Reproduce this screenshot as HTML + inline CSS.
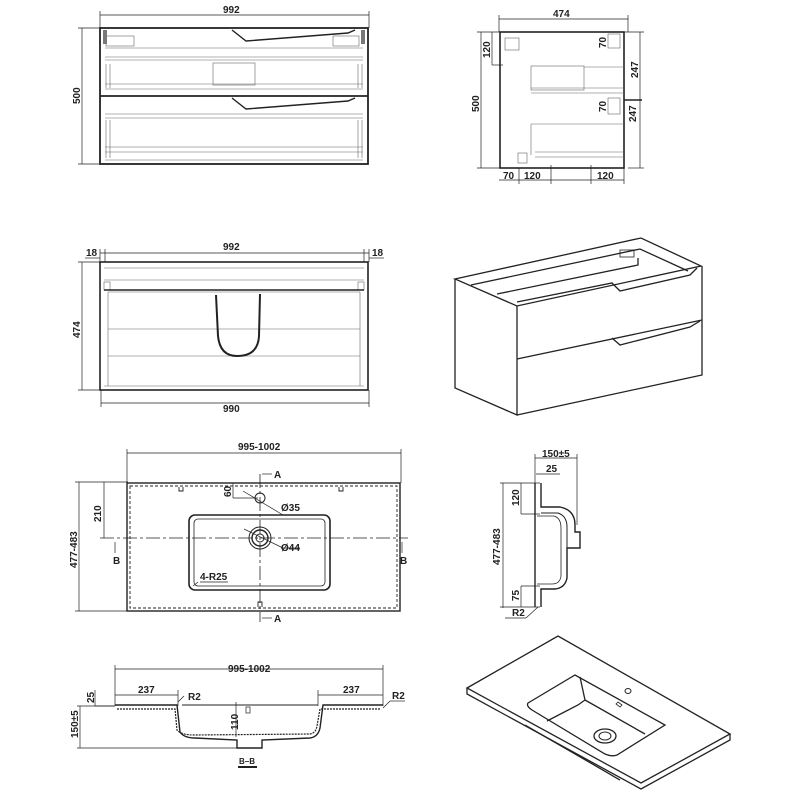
<!DOCTYPE html>
<html><head><style>body{margin:0;background:#fff}svg{display:block}text{font-family:"Liberation Sans",sans-serif;font-size:10px;font-weight:bold;fill:#222}</style></head><body>
<svg width="800" height="800" viewBox="0 0 800 800" xmlns="http://www.w3.org/2000/svg">
<g fill="none" stroke="#222">
<g stroke-width="0.7">
<line x1="100" y1="15" x2="369" y2="15"/><line x1="100" y1="11" x2="100" y2="28"/><line x1="369" y1="11" x2="369" y2="28"/>
<line x1="82" y1="28" x2="82" y2="164"/><line x1="78" y1="28" x2="101" y2="28"/><line x1="78" y1="164" x2="101" y2="164"/>
</g>
<rect x="100" y="28" width="268" height="136" stroke-width="1.8"/>
<line x1="100" y1="96" x2="368" y2="96" stroke-width="1.8"/>
<g stroke-width="0.6" stroke="#666">
<line x1="105" y1="48" x2="363" y2="48"/><line x1="105" y1="57" x2="363" y2="57"/><line x1="105" y1="60" x2="363" y2="60"/>
<line x1="105" y1="84" x2="363" y2="84"/><line x1="105" y1="89" x2="363" y2="89"/>
<line x1="105" y1="114" x2="363" y2="114"/><line x1="105" y1="118" x2="363" y2="118"/>
<line x1="105" y1="147" x2="363" y2="147"/><line x1="105" y1="152" x2="363" y2="152"/><line x1="105" y1="160" x2="363" y2="160"/>
<line x1="106" y1="64" x2="106" y2="88"/><line x1="110" y1="64" x2="110" y2="88"/><line x1="358" y1="64" x2="358" y2="88"/><line x1="362" y1="64" x2="362" y2="88"/>
<line x1="106" y1="120" x2="106" y2="158"/><line x1="110" y1="120" x2="110" y2="158"/><line x1="358" y1="120" x2="358" y2="158"/><line x1="362" y1="120" x2="362" y2="158"/>
<rect x="106" y="36" width="28" height="10"/><rect x="333" y="36" width="26" height="10"/>
<rect x="213" y="63" width="42" height="22"/>
</g>
<path d="M232 30 L246 41 L348 33 L355 30" stroke-width="1.4"/>
<path d="M232 98 L246 109 L348 101 L355 98" stroke-width="1.4"/>
<rect x="103" y="30" width="4" height="14" fill="#777" stroke="none"/><rect x="361" y="30" width="4" height="14" fill="#777" stroke="none"/>

<g stroke-width="0.7">
<line x1="499" y1="19" x2="628" y2="19"/><line x1="499" y1="15" x2="499" y2="32"/><line x1="628" y1="15" x2="628" y2="32"/>
<line x1="481" y1="32" x2="481" y2="168"/><line x1="477" y1="32" x2="500" y2="32"/><line x1="477" y1="168" x2="500" y2="168"/>
<line x1="492" y1="32" x2="492" y2="65"/><line x1="492" y1="65" x2="503" y2="65"/>
<line x1="640" y1="32" x2="640" y2="168"/><line x1="624" y1="32" x2="644" y2="32"/><line x1="628" y1="168" x2="644" y2="168"/>
<line x1="499" y1="180" x2="624" y2="180"/>
<line x1="519" y1="168" x2="519" y2="184"/><line x1="551" y1="165" x2="551" y2="184"/><line x1="591" y1="165" x2="591" y2="184"/><line x1="624" y1="168" x2="624" y2="184"/>
</g>
<line x1="624" y1="100" x2="642" y2="100" stroke-width="1.5"/>
<rect x="500" y="32" width="124" height="136" stroke-width="1.6"/>
<g stroke-width="0.6" stroke="#666">
<rect x="505" y="38" width="14" height="12"/><rect x="608" y="34" width="12" height="14"/><rect x="608" y="98" width="12" height="16"/>
<rect x="531" y="66" width="53" height="24"/><line x1="531" y1="88" x2="624" y2="88"/><line x1="531" y1="93" x2="624" y2="93"/><line x1="584" y1="67" x2="624" y2="67"/>
<line x1="531" y1="124" x2="531" y2="155"/><line x1="531" y1="124" x2="624" y2="124"/><line x1="535" y1="152" x2="624" y2="152"/><line x1="535" y1="157" x2="624" y2="157"/>
<rect x="518" y="153" width="9" height="10"/>
</g>
<g stroke-width="0.7">
<line x1="100" y1="253" x2="369" y2="253"/><line x1="100" y1="249" x2="100" y2="262"/><line x1="369" y1="249" x2="369" y2="262"/>
<line x1="85" y1="258" x2="100" y2="258"/><line x1="369" y1="258" x2="384" y2="258"/><line x1="105" y1="249" x2="105" y2="262"/><line x1="364" y1="249" x2="364" y2="262"/>
<line x1="82" y1="262" x2="82" y2="390"/><line x1="78" y1="262" x2="101" y2="262"/><line x1="78" y1="390" x2="101" y2="390"/>
<line x1="101" y1="403" x2="369" y2="403"/><line x1="101" y1="390" x2="101" y2="407"/><line x1="369" y1="390" x2="369" y2="407"/>
</g>
<rect x="100" y="262" width="268" height="128" stroke-width="1.6"/>
<g stroke-width="0.6" stroke="#666">
<line x1="104" y1="268" x2="364" y2="268"/><line x1="104" y1="280" x2="364" y2="280"/>
<line x1="108" y1="292" x2="360" y2="292"/><line x1="108" y1="329" x2="360" y2="329"/><line x1="108" y1="356" x2="360" y2="356"/>
<line x1="108" y1="292" x2="108" y2="386"/><line x1="360" y1="292" x2="360" y2="386"/><line x1="104" y1="386" x2="364" y2="386"/>
<rect x="104" y="282" width="6" height="8"/><rect x="358" y="282" width="6" height="8"/>
</g>
<line x1="104" y1="290" x2="364" y2="290" stroke-width="1.5"/>
<path d="M216 295 L218 336 Q220 356 237 356 Q258 356 259 336 L260 294" stroke-width="2"/>
<g stroke-width="1.3">
<path d="M455 279 L641 238 L701 266 L517 306 Z"/>
<path d="M455 279 L455 388 L517 415 L517 306"/>
<path d="M517 415 L702 375 L702 266"/>
<path d="M517 359 L702 320"/>
<path d="M471 285 L640 249 L688 271"/>
<path d="M497 294 L638 265 L638 258"/>
<path d="M517 302 L612 283 L620 291 L690 275 L697 268"/>
<path d="M612 338 L620 345 L690 327 L700 321"/>
</g>
<rect x="620" y="250" width="14" height="7" stroke-width="0.8"/>
<g stroke-width="0.7">
<line x1="127" y1="453" x2="401" y2="453"/><line x1="127" y1="449" x2="127" y2="483"/><line x1="401" y1="449" x2="401" y2="483"/>
<line x1="79" y1="482" x2="79" y2="611"/><line x1="75" y1="482" x2="128" y2="482"/><line x1="75" y1="611" x2="128" y2="611"/>
<line x1="104" y1="482" x2="104" y2="538"/><line x1="233" y1="498" x2="258" y2="498"/><line x1="233" y1="483" x2="233" y2="498"/>
<line x1="115" y1="542" x2="115" y2="553"/><line x1="402" y1="542" x2="402" y2="553"/>
<line x1="262" y1="474" x2="272" y2="474"/><line x1="262" y1="618" x2="272" y2="618"/>
<line x1="243" y1="491" x2="283" y2="515"/><line x1="281" y1="515" x2="300" y2="515"/>
<line x1="244" y1="529" x2="283" y2="548"/><line x1="281" y1="548" x2="300" y2="548"/>
<line x1="200" y1="582" x2="228" y2="582"/><line x1="198" y1="582" x2="193" y2="586"/>
</g>
<rect x="127" y="483" width="273" height="128" stroke-width="1.4"/>
<rect x="130" y="486" width="267" height="122" stroke-width="0.9" stroke-dasharray="3,2"/>
<line x1="100" y1="538" x2="408" y2="538" stroke-width="0.8" stroke-dasharray="14,3,3,3"/>
<line x1="260" y1="474" x2="260" y2="622" stroke-width="0.8" stroke-dasharray="14,3,3,3"/>
<rect x="189" y="515" width="141" height="75" rx="6" stroke-width="1.6"/>
<rect x="194" y="519" width="131" height="67" rx="4" stroke-width="0.8"/>
<circle cx="260" cy="538" r="11" stroke-width="1"/><circle cx="260" cy="538" r="8" stroke-width="1.4"/><circle cx="260" cy="538" r="4" stroke-width="1"/>
<circle cx="260" cy="498" r="5" stroke-width="1"/>
<path d="M179 487 v4 h4 v-4 M339 487 v4 h4 v-4 M258 607 v-5 h4 v5" stroke-width="0.9"/>
<g stroke-width="0.7">
<line x1="535" y1="458" x2="577" y2="458"/><line x1="535" y1="454" x2="535" y2="483"/><line x1="577" y1="454" x2="577" y2="525"/>
<line x1="536" y1="474" x2="560" y2="474"/>
<line x1="503" y1="483" x2="503" y2="608"/><line x1="500" y1="483" x2="540" y2="483"/>
<line x1="521" y1="483" x2="521" y2="514"/><line x1="521" y1="514" x2="540" y2="514"/>
<line x1="521" y1="586" x2="521" y2="607"/><line x1="521" y1="586" x2="540" y2="586"/><line x1="500" y1="607" x2="540" y2="607"/>
<line x1="505" y1="618" x2="526" y2="618"/><line x1="526" y1="618" x2="538" y2="607"/>
</g>
<path d="M535 483 L535 607 M541 483 L541 507 L560 507 Q575 510 575 525 L575 532 L580 532 L580 548 L575 548 L567 548 L567 578 Q565 588 555 589 L541 589 L541 607" stroke-width="1.4"/>
<path d="M541 513 L558 513 Q567 516 567 527 L567 548" stroke-width="1"/>
<path d="M537 516 L554 516 Q561 518 561 528 L561 576 Q560 584 552 584 L537 584" stroke-width="0.8"/>
<g stroke-width="0.7">
<line x1="115" y1="669" x2="383" y2="669"/><line x1="115" y1="665" x2="115" y2="706"/><line x1="383" y1="665" x2="383" y2="706"/>
<line x1="115" y1="695" x2="178" y2="695"/><line x1="318" y1="695" x2="383" y2="695"/><line x1="178" y1="690" x2="178" y2="706"/><line x1="318" y1="690" x2="318" y2="706"/>
<line x1="95" y1="706" x2="115" y2="706"/><line x1="95" y1="690" x2="95" y2="706"/>
<line x1="80" y1="706" x2="80" y2="748"/><line x1="77" y1="748" x2="240" y2="748"/><line x1="77" y1="706" x2="115" y2="706"/>
<line x1="236" y1="702" x2="236" y2="737"/>
<line x1="184" y1="696" x2="178" y2="702"/><line x1="383" y1="708" x2="390" y2="701"/><line x1="390" y1="701" x2="405" y2="701"/>
</g>
<path d="M115 705 L177 705 L180 732 Q184 738 195 738 L237 740 L237 748 L262 748 L262 740 L310 738 Q318 737 320 728 L323 705 L383 705" stroke-width="1.4"/>
<path d="M117 709 L175 709 L177 730 Q181 735 195 735 L310 734 Q316 733 317 726 L320 709 L381 709" stroke-width="1.2" stroke-dasharray="2,1"/>
<line x1="182" y1="705" x2="318" y2="705" stroke-width="1"/>
<rect x="246" y="707" width="4" height="6" stroke-width="0.7"/>
<line x1="238" y1="767" x2="257" y2="767" stroke-width="2"/>
<g stroke-width="1.3">
<path d="M467 688 L558 636 L730 734 L641 783 Z"/>
<path d="M467 688 L467 694 L641 789 L730 740 L730 734"/>
<path d="M528 703 L575 675 L665 725 L617 755 Q612 757 605 754 L532 710 Q526 706 528 703 Z"/>
<path d="M580 677 L585 700 L578 705 L547 721 M585 700 L645 734"/>
<path d="M525 725 L620 780"/>
</g>
<ellipse cx="605" cy="736" rx="11" ry="7" stroke-width="1.3"/><ellipse cx="605" cy="736" rx="6" ry="4" stroke-width="1"/>
<ellipse cx="628" cy="691" rx="3" ry="2.5" stroke-width="1"/>
<path d="M618 702 l4 3 l-2 2 l-4 -3 z" stroke-width="0.8"/>
</g>
<text x="223" y="13">992</text>
<text transform="translate(80,104) rotate(-90)">500</text>
<text x="553" y="17">474</text>
<text transform="translate(479,112) rotate(-90)">500</text>
<text transform="translate(490,58) rotate(-90)">120</text>
<text transform="translate(606,48) rotate(-90)">70</text>
<text transform="translate(606,112) rotate(-90)">70</text>
<text transform="translate(638,78) rotate(-90)">247</text>
<text x="636" y="122" transform="rotate(-90,636,122)">247</text>
<text x="503" y="179">70</text>
<text x="524" y="179">120</text>
<text x="597" y="179">120</text>
<text x="223" y="250">992</text>
<text x="86" y="256">18</text>
<text x="372" y="256">18</text>
<text transform="translate(80,338) rotate(-90)">474</text>
<text x="223" y="412">990</text>
<text x="238" y="450">995-1002</text>
<text transform="translate(77,568) rotate(-90)">477-483</text>
<text transform="translate(101,522) rotate(-90)">210</text>
<text transform="translate(231,497) rotate(-90)">60</text>
<text x="274" y="478">A</text><text x="274" y="622">A</text>
<text x="113" y="564">B</text><text x="400" y="564">B</text>
<text x="281" y="511">Ø35</text>
<text x="281" y="551">Ø44</text>
<text x="200" y="580">4-R25</text>
<text x="542" y="457">150±5</text>
<text x="546" y="472">25</text>
<text transform="translate(519,506) rotate(-90)">120</text>
<text transform="translate(500,565) rotate(-90)">477-483</text>
<text transform="translate(519,601) rotate(-90)">75</text>
<text x="512" y="616">R2</text>
<text x="228" y="672">995-1002</text>
<text x="138" y="693">237</text>
<text x="343" y="693">237</text>
<text x="188" y="700">R2</text>
<text x="392" y="699">R2</text>
<text transform="translate(94,703) rotate(-90)">25</text>
<text transform="translate(78,738) rotate(-90)">150±5</text>
<text transform="translate(238,730) rotate(-90)">110</text>
<text x="239" y="764" style="font-size:8px">B–B</text>
</svg>
</body></html>
